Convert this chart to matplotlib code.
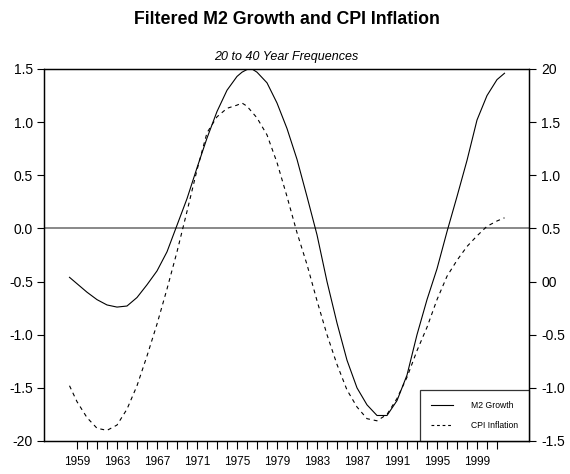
import matplotlib
matplotlib.use("Agg")
import matplotlib.pyplot as plt
from matplotlib.lines import Line2D

# ---------------- data ----------------
m2_years = ([1958.25] + list(range(1959, 1976)) + [1975.5, 1976, 1976.5]
            + list(range(1977, 2002)) + [2001.75])
m2_growth = [-0.46, -0.52, -0.60, -0.67, -0.72, -0.74, -0.73, -0.65, -0.53, -0.40,
             -0.22, 0.03, 0.28, 0.57, 0.85, 1.10, 1.30, 1.43, 1.47, 1.495, 1.50,
             1.47, 1.37, 1.18, 0.94, 0.65, 0.30, -0.06, -0.50, -0.89, -1.24,
             -1.50, -1.66, -1.76, -1.76, -1.62, -1.38, -1.00, -0.67, -0.38, -0.03,
             0.30, 0.64, 1.02, 1.25, 1.40, 1.46]
cpi_years = ([1958.25] + list(range(1959, 1976)) + [1975.5]
             + list(range(1976, 2002)) + [2001.75])
cpi_inflation = [-0.98, -1.13, -1.28, -1.38, -1.40, -1.35, -1.20, -0.98, -0.70, -0.40,
                 -0.07, 0.28, 0.66, 1.05, 1.40, 1.55, 1.63, 1.66, 1.68, 1.65, 1.54,
                 1.38, 1.12, 0.80, 0.46, 0.16, -0.18, -0.50, -0.78, -1.02, -1.18,
                 -1.29, -1.31, -1.25, -1.10, -0.90, -0.65, -0.43, -0.17, 0.05, 0.20,
                 0.33, 0.43, 0.52, 0.57, 0.60]
tick_years = list(range(1959, 2002))
label_years = ['1959', '1963', '1967', '1971', '1975', '1979', '1983', '1987',
               '1991', '1995', '1999']
left_ticks = [-2.0, -1.5, -1.0, -0.5, 0.0, 0.5, 1.0, 1.5]
left_labels = ['-20', '-1.5', '-1.0', '-0.5', '0.0', '0.5', '1.0', '1.5']
right_ticks = [-1.5, -1.0, -0.5, 0.0, 0.5, 1.0, 1.5, 2.0]
right_labels = ['-1.5', '-1.0', '-0.5', '00', '0.5', '1.0', '1.5', '20']
series_names = ['M2 Growth', 'CPI Inflation']
title = 'Filtered M2 Growth and CPI Inflation'
subtitle = '20 to 40 Year Frequences'

# ---------------- style ----------------
plt.rcParams['font.family'] = ['Liberation Sans', 'DejaVu Sans']

W, H = 570, 474
fig = plt.figure(figsize=(W / 100, H / 100), dpi=100)
L, R, T, B = 44, 529, 69, 441
ax = fig.add_axes([L / W, (H - B) / H, (R - L) / W, (B - T) / H])
ax2 = ax.twinx()

ax.plot(m2_years, m2_growth, color='black', lw=0.8, solid_joinstyle='round')
ax2.plot(cpi_years, cpi_inflation, color='black', lw=0.8, dashes=(3.5, 3.5))
ax.axhline(0, color='#7f7f7f', lw=1.3, zorder=1)

ax.set_xlim(1955.7, 2004.2)
ax.set_ylim(-2.0, 1.5)
ax2.set_ylim(-1.5, 2.0)

xlabels = [str(y) if str(y) in label_years else '' for y in tick_years]
ax.set_xticks(tick_years)
ax.set_xticklabels(xlabels, fontsize=8.5)
ax.set_yticks(left_ticks)
ax.set_yticklabels(left_labels, fontsize=10)
ax2.set_yticks(right_ticks)
ax2.set_yticklabels(right_labels, fontsize=10)

ax.tick_params(axis='x', direction='out', length=6, width=0.8, pad=5)
ax.tick_params(axis='y', direction='out', length=5, width=0.8, pad=3)
ax2.tick_params(axis='y', direction='out', length=5, width=0.8, pad=4)
for a in (ax, ax2):
    for s in a.spines.values():
        s.set_linewidth(0.9)
        s.set_color('black')

# legend anchored at lower-right corner of the plot area
handles = [Line2D([], [], color='black', lw=0.8),
           Line2D([], [], color='black', lw=0.8, dashes=(2.5, 2.5))]
leg = ax.legend(handles, series_names, loc='lower right', bbox_to_anchor=(1, 0),
                borderaxespad=0, frameon=True, fancybox=False, fontsize=6.2,
                handlelength=2.6, handletextpad=2.0, borderpad=1.3,
                labelspacing=1.25)
leg.get_frame().set_edgecolor('black')
leg.get_frame().set_linewidth(0.9)
leg.set_zorder(5)

fig.text((L + R) / 2 / W, 1 - 20 / H, title, ha='center', va='center',
         fontsize=12.8, fontweight='bold')
fig.text((L + R) / 2 / W, 1 - 57 / H, subtitle, ha='center', va='center',
         fontsize=9, fontstyle='italic')

fig.savefig('out.png', dpi=100)
